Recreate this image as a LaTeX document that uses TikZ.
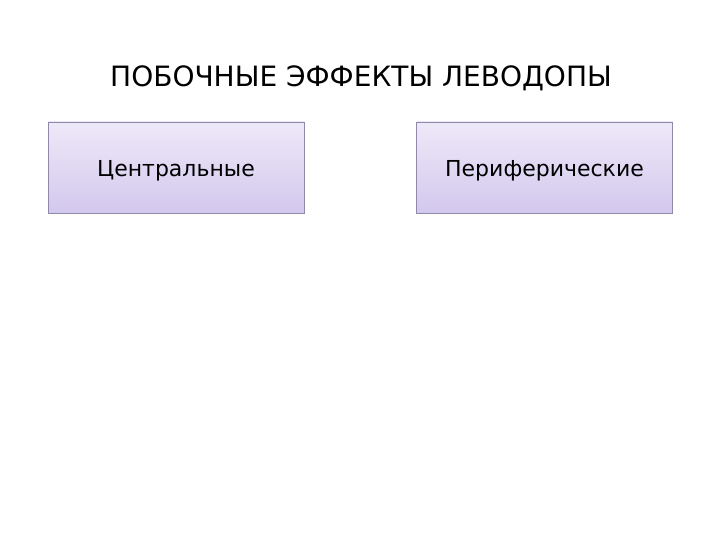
\documentclass[tikz,border=0pt]{standalone}
\usepackage{fontspec}
\setmainfont{DejaVu Sans}
\definecolor{boxtop}{HTML}{EEE9F8}
\definecolor{boxbot}{HTML}{D3C8EE}
\definecolor{boxline}{HTML}{9189A8}
\begin{document}
\begin{tikzpicture}[x=1pt,y=-1pt,
  box/.style={draw=boxline, line width=0.8pt, minimum width=256pt, minimum height=91pt,
    top color=boxtop, bottom color=boxbot, inner sep=0pt},
  boxtext/.style={font=\fontsize{22}{26}\selectfont, inner sep=0pt},
  title/.style={font=\fontsize{28}{32}\selectfont}]
\useasboundingbox (0,0) rectangle (720,540);
\fill[white] (0,0) rectangle (720,540);
\node[title] (t) at (361,78) {ПОБОЧНЫЕ ЭФФЕКТЫ ЛЕВОДОПЫ};
\node[box] (c) at (176,167.5) {};
\node[box] (p) at (544.5,167.5) {};
\node[boxtext] (ct) at ([yshift=-3pt]c.center) {Центральные};
\node[boxtext] (pt) at ([yshift=-3pt]p.center) {Периферические};
\end{tikzpicture}
\end{document}
